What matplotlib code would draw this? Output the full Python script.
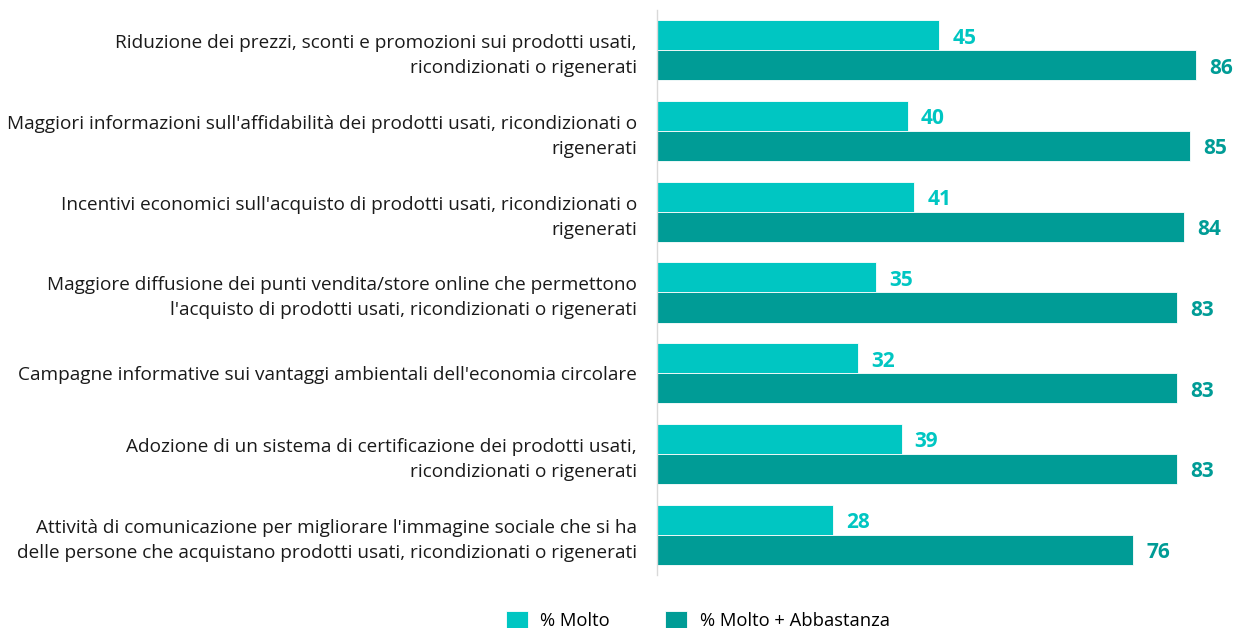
import matplotlib
matplotlib.use("Agg")
import matplotlib.pyplot as plt
import numpy as np

plt.rcParams["font.family"] = ["Open Sans", "DejaVu Sans"]

categories = [
    "Riduzione dei prezzi, sconti e promozioni sui prodotti usati,\nricondizionati o rigenerati",
    "Maggiori informazioni sull'affidabilità dei prodotti usati, ricondizionati o\nrigenerati",
    "Incentivi economici sull'acquisto di prodotti usati, ricondizionati o\nrigenerati",
    "Maggiore diffusione dei punti vendita/store online che permettono\nl'acquisto di prodotti usati, ricondizionati o rigenerati",
    "Campagne informative sui vantaggi ambientali dell'economia circolare",
    "Adozione di un sistema di certificazione dei prodotti usati,\nricondizionati o rigenerati",
    "Attività di comunicazione per migliorare l'immagine sociale che si ha\ndelle persone che acquistano prodotti usati, ricondizionati o rigenerati",
]
molto = [45, 40, 41, 35, 32, 39, 28]
molto_abbastanza = [86, 85, 84, 83, 83, 83, 76]

LIGHT = "#00C6C2"
DARK = "#009C96"

fig = plt.figure(figsize=(12.35, 6.28), dpi=100)
ax = fig.add_axes([0.532, 0.0845, 0.468, 0.8995])

y = np.arange(len(categories))
h = 0.372
ax.barh(y - h / 2, molto, height=h, color=LIGHT, edgecolor="white",
        linewidth=0.6, label="% Molto")
ax.barh(y + h / 2, molto_abbastanza, height=h, color=DARK, edgecolor="white",
        linewidth=0.6, label="% Molto + Abbastanza")

# value labels sit a touch lower than bbox-centre so digits look centred
dy = 0.035
for yi, v in zip(y, molto):
    ax.text(v + 2.1, yi - h / 2 + dy, str(v), va="center", ha="left",
            fontsize=15, fontweight="bold", color=LIGHT)
for yi, v in zip(y, molto_abbastanza):
    ax.text(v + 2.1, yi + h / 2 + dy, str(v), va="center", ha="left",
            fontsize=15, fontweight="bold", color=DARK)

ax.set_xlim(0, 92.2)
ax.set_ylim(len(categories) - 0.5, -0.5)
ax.set_yticks(y)
ax.set_yticklabels(categories, fontsize=13.7, color="#1a1a1a",
                   linespacing=1.5)
ax.tick_params(axis="y", length=0, pad=14.5)
ax.set_xticks([])
for s in ("top", "right", "bottom"):
    ax.spines[s].set_visible(False)
ax.spines["left"].set_color("#d9d9d9")
ax.spines["left"].set_linewidth(1.0)

fig.legend(loc="lower center", bbox_to_anchor=(0.565, -0.03), ncol=2,
           frameon=False, fontsize=13.2, handlelength=1.2, handleheight=1.1,
           columnspacing=3.0, handletextpad=0.7)

fig.savefig("out.png", dpi=100)
